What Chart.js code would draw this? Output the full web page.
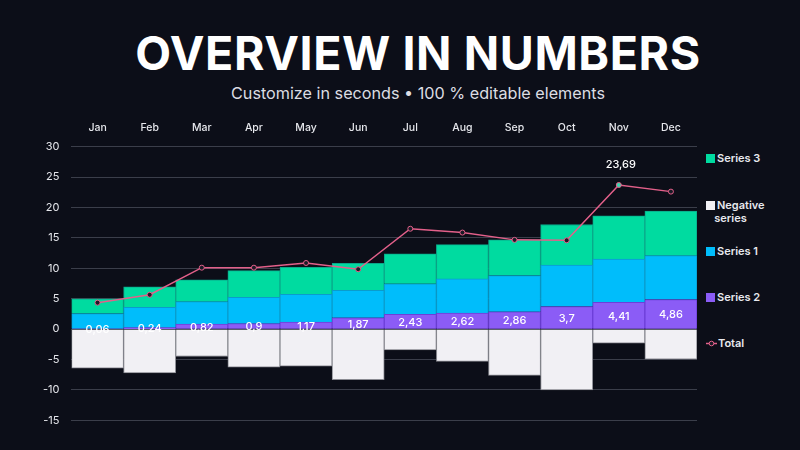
<!DOCTYPE html>
<html>
<head>
<meta charset="utf-8">
<script src="https://cdn.jsdelivr.net/npm/chart.js@4/dist/chart.umd.min.js"></script>
<style>
  html, body { margin: 0; padding: 0; background: #0c0e18; }
  body { width: 800px; height: 450px; position: relative; overflow: hidden; font-family: Inter, "Noto Sans", sans-serif; }
  h1 { position: absolute; left: 0; width: 836px; top: 28px; margin: 0; text-align: center; color: #fff; font-size: 46.5px; font-weight: 700; letter-spacing: 0.6px; line-height: 50px; }
  .sub { position: absolute; left: 0; width: 836px; top: 83px; text-align: center; color: #dcdde3; font-size: 16.2px; font-weight: 400; }
  #wrap { position: absolute; left: 31px; top: 118px; width: 671px; height: 321px; }
  #legend { position: absolute; left: 706px; top: 150px; color: #e8e9ee; font-size: 11px; font-weight: 600; }
  #legend .item { position: absolute; left: 0; white-space: nowrap; line-height: 13px; }
  #legend .box { display: inline-block; width: 9px; height: 9px; margin-right: 2px; vertical-align: -1px; }
</style>
</head>
<body>
<h1>OVERVIEW IN NUMBERS</h1>
<div class="sub">Customize in seconds • 100 % editable elements</div>
<div id="wrap"><canvas id="chart"></canvas></div>
<div id="legend"></div>
<script>
const months = ['Jan', 'Feb', 'Mar', 'Apr', 'May', 'Jun', 'Jul', 'Aug', 'Sep', 'Oct', 'Nov', 'Dec'];
const series2 = [0.06, 0.24, 0.82, 0.9, 1.17, 1.87, 2.43, 2.62, 2.86, 3.7, 4.41, 4.86];
const series1 = [2.49, 3.35, 3.69, 4.32, 4.54, 4.49, 5.02, 5.64, 5.94, 6.84, 7.11, 7.21];
const series3 = [2.45, 3.37, 3.59, 4.4, 4.45, 4.44, 4.94, 5.64, 5.87, 6.66, 7.12, 7.33];
const negativeSeries = [-6.4, -7.2, -4.5, -6.25, -6.1, -8.3, -3.4, -5.3, -7.6, -10.0, -2.3, -4.95];
const total = [4.35, 5.65, 10.1, 10.1, 10.87, 9.84, 16.5, 15.87, 14.67, 14.6, 23.69, 22.6];
const yTicks = [30, 25, 20, 15, 10, 5, 0, -5, -10, -15];

const fmt = v => String(v).replace('.', ',');
const peak = total.indexOf(Math.max(...total));

// white labels inside Series 2 + label over the peak of Total
const labelPlugin = {
    id: 'labels',
    afterDatasetsDraw(chart) {
        const ctx = chart.ctx;
        ctx.save();
        ctx.fillStyle = '#ffffff';
        ctx.font = '500 11px Inter, "Noto Sans", sans-serif';
        ctx.textAlign = 'center';
        ctx.textBaseline = 'middle';
        chart.getDatasetMeta(1).data.forEach((bar, i) => {
            ctx.fillText(fmt(series2[i]), bar.x, (bar.y + bar.base) / 2 + 1);
        });
        const pt = chart.getDatasetMeta(0).data[peak];
        ctx.fillText(fmt(total[peak]), pt.x + 2, pt.y - 20);
        ctx.restore();
    }
};

const pointFill = total.map((v, i) => i === peak ? '#3cd6b0' : '#1a1b26');

const chart = new Chart(document.getElementById('chart'), {
    type: 'bar',
    data: {
        labels: months,
        datasets: [
            { label: 'Total', type: 'line', data: total, borderColor: '#e3608a', borderWidth: 1.5,
              pointRadius: 2.5, pointBackgroundColor: pointFill, pointBorderColor: '#e3608a', pointBorderWidth: 1,
              order: 0, tension: 0 },
            { label: 'Series 2', data: series2, backgroundColor: '#8b5cf6', borderColor: '#6d3fd8', borderWidth: 1, order: 1 },
            { label: 'Series 1', data: series1, backgroundColor: '#00bdfb', borderColor: '#0a9ccc', borderWidth: 1, order: 1 },
            { label: 'Series 3', data: series3, backgroundColor: '#00dba0', borderColor: '#0aa88a', borderWidth: 1, order: 1 },
            { label: 'Negative series', data: negativeSeries, backgroundColor: '#f1f0f4', borderColor: '#8a8b92', borderWidth: 1, order: 1 }
        ]
    },
    options: {
        responsive: true,
        maintainAspectRatio: false,
        animation: false,
        barPercentage: 1,
        categoryPercentage: 1,
        plugins: { legend: { display: false }, tooltip: { enabled: false } },
        scales: {
            x: {
                position: 'top',
                stacked: true,
                grid: { display: false },
                border: { display: false },
                ticks: { color: '#e6e7ec', font: { size: 10.5, weight: '500', family: 'Inter' }, padding: 4 }
            },
            y: {
                stacked: true,
                min: -15,
                max: 30,
                afterBuildTicks: axis => { axis.ticks = yTicks.map(v => ({ value: v })); },
                grid: { color: '#3b3e4a', lineWidth: 1, drawTicks: false },
                border: { display: false },
                ticks: { color: '#e6e7ec', font: { size: 11, family: 'Inter' }, padding: 12 }
            }
        }
    },
    plugins: [labelPlugin]
});

// right side legend
const legendItems = [
    { text: 'Series 3', color: '#00dba0', top: 2 },
    { text: 'Negative<br>&nbsp;&nbsp;&nbsp;series', color: '#f1f0f4', top: 49 },
    { text: 'Series 1', color: '#00bdfb', top: 95 },
    { text: 'Series 2', color: '#8b5cf6', top: 141 },
    { text: 'Total', color: null, top: 187 }
];
const legend = document.getElementById('legend');
legendItems.forEach(it => {
    const d = document.createElement('div');
    d.className = 'item';
    d.style.top = it.top + 'px';
    const mark = it.color
        ? '<span class="box" style="background:' + it.color + '"></span>'
        : '<svg width="11" height="9" style="margin-right:1px;vertical-align:-1px"><line x1="0" y1="4.5" x2="11" y2="4.5" stroke="#e3608a" stroke-width="1.5"/><circle cx="5.5" cy="4.5" r="2.3" fill="#1a1b26" stroke="#e3608a" stroke-width="1"/></svg>';
    d.innerHTML = mark + it.text;
    legend.appendChild(d);
});
</script>
</body>
</html>
